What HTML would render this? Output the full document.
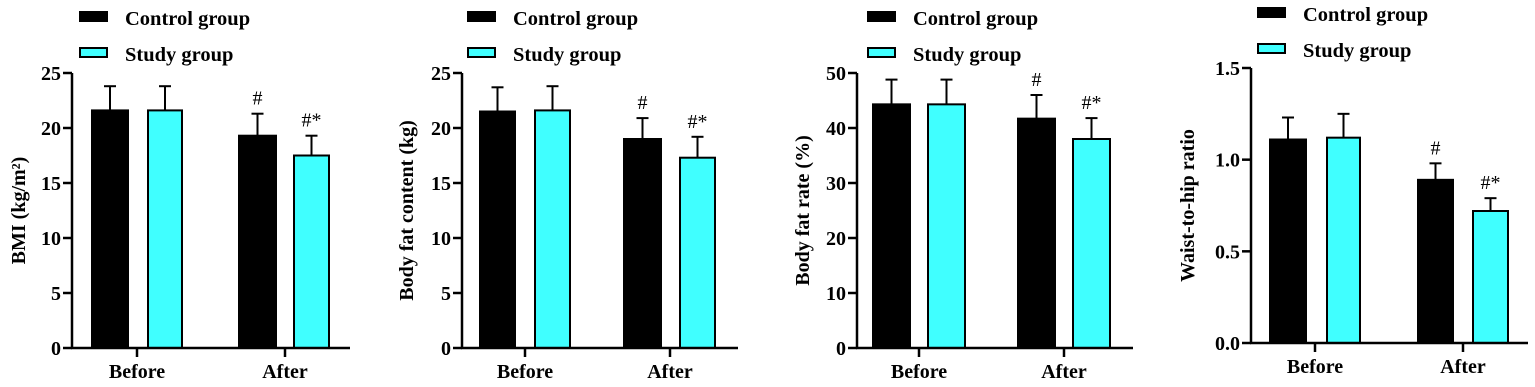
<!DOCTYPE html>
<html><head><meta charset="utf-8"><style>
html,body{margin:0;padding:0;background:#fff}
svg{display:block}
text{font-family:"Liberation Serif",serif;font-weight:bold;fill:#000}
</style></head><body>
<svg id="s" width="1535" height="387" viewBox="0 0 1535 387" xmlns="http://www.w3.org/2000/svg"></svg>
<script>
const P=[
 {ax:72,top:73,bot:348,max:25,step:5,dec:0,bars:[[92,128],[148,182],[239,276],[294,329]],vals:[[21.6,23.8],[21.6,23.8],[19.3,21.3],[17.5,19.3]],xend:350,cats:[137,285],lx:79,ly:11,ylab:"BMI (kg/m²)",yl:25},
 {ax:462,top:73,bot:348,max:25,step:5,dec:0,bars:[[480,515],[535,570],[624,661],[680,715]],vals:[[21.5,23.7],[21.6,23.8],[19.0,20.9],[17.3,19.2]],xend:738,cats:[525,670],lx:467,ly:11,ylab:"Body fat content (kg)",yl:413},
 {ax:857,top:73,bot:348,max:50,step:10,dec:0,bars:[[873,910],[928,965],[1018,1055],[1073,1110]],vals:[[44.3,48.8],[44.3,48.8],[41.7,46.0],[38.0,41.8]],xend:1133,cats:[919,1064],lx:867,ly:11,ylab:"Body fat rate (%)",yl:809},
 {ax:1251,top:68,bot:343,max:1.5,step:0.5,dec:1,bars:[[1270,1306],[1327,1360],[1418,1453],[1473,1508]],vals:[[1.11,1.23],[1.12,1.25],[0.89,0.98],[0.72,0.79]],xend:1528,cats:[1315,1463],lx:1257,ly:7,ylab:"Waist-to-hip ratio",yl:1194}
];
let h="";
for(const p of P){
 const Y=v=>p.bot-(v/p.max)*(p.bot-p.top);
 h+=`<rect x="${p.lx}" y="${p.ly}" width="29" height="11" fill="#000"/>`;
 h+=`<text x="${p.lx+46}" y="${p.ly+14}" font-size="20.5">Control group</text>`;
 h+=`<rect x="${p.lx+1}" y="${p.ly+37}" width="27" height="9" fill="#40ffff" stroke="#000" stroke-width="2"/>`;
 h+=`<text x="${p.lx+46}" y="${p.ly+50}" font-size="20.5">Study group</text>`;
 p.bars.forEach((b,i)=>{
  const [v,e]=p.vals[i];const cx=(b[0]+b[1])/2;
  h+=`<line x1="${cx}" y1="${Y(v)}" x2="${cx}" y2="${Y(e)}" stroke="#000" stroke-width="2"/>`;
  h+=`<line x1="${cx-6}" y1="${Y(e)}" x2="${cx+6}" y2="${Y(e)}" stroke="#000" stroke-width="2"/>`;
  h+=`<rect x="${b[0]}" y="${Y(v)}" width="${b[1]-b[0]}" height="${p.bot-Y(v)}" fill="${i%2?'#40ffff':'#000'}" stroke="#000" stroke-width="2"/>`;
  if(i==2)h+=`<text x="${cx}" y="${Y(e)-9}" font-size="20" style="font-weight:normal" text-anchor="middle">#</text>`;
  if(i==3)h+=`<text x="${cx}" y="${Y(e)-9}" font-size="20" style="font-weight:normal" text-anchor="middle">#*</text>`;
 });
 h+=`<line x1="${p.ax}" y1="${p.top}" x2="${p.ax}" y2="${p.bot+1}" stroke="#000" stroke-width="2.5"/>`;
 h+=`<line x1="${p.ax-1}" y1="${p.bot}" x2="${p.xend}" y2="${p.bot}" stroke="#000" stroke-width="2.5"/>`;
 for(let v=0;v<=p.max+1e-9;v+=p.step){const y=Y(v);
  h+=`<line x1="${p.ax-9}" y1="${y}" x2="${p.ax}" y2="${y}" stroke="#000" stroke-width="2.5"/>`;
  h+=`<text x="${p.ax-11}" y="${y+7}" font-size="20" text-anchor="end">${v.toFixed(p.dec)}</text>`;}
 p.cats.forEach((c,i)=>{
  h+=`<line x1="${c}" y1="${p.bot}" x2="${c}" y2="${p.bot+9}" stroke="#000" stroke-width="2.5"/>`;
  h+=`<text x="${c}" y="${p.bot+30}" font-size="20" text-anchor="middle">${i?'After':'Before'}</text>`;});
 const cy=(p.top+p.bot)/2;
 h+=`<text transform="translate(${p.yl},${cy}) rotate(-90)" font-size="20" text-anchor="middle">${p.ylab}</text>`;
}
document.getElementById("s").innerHTML=h;
</script>
</body></html>
